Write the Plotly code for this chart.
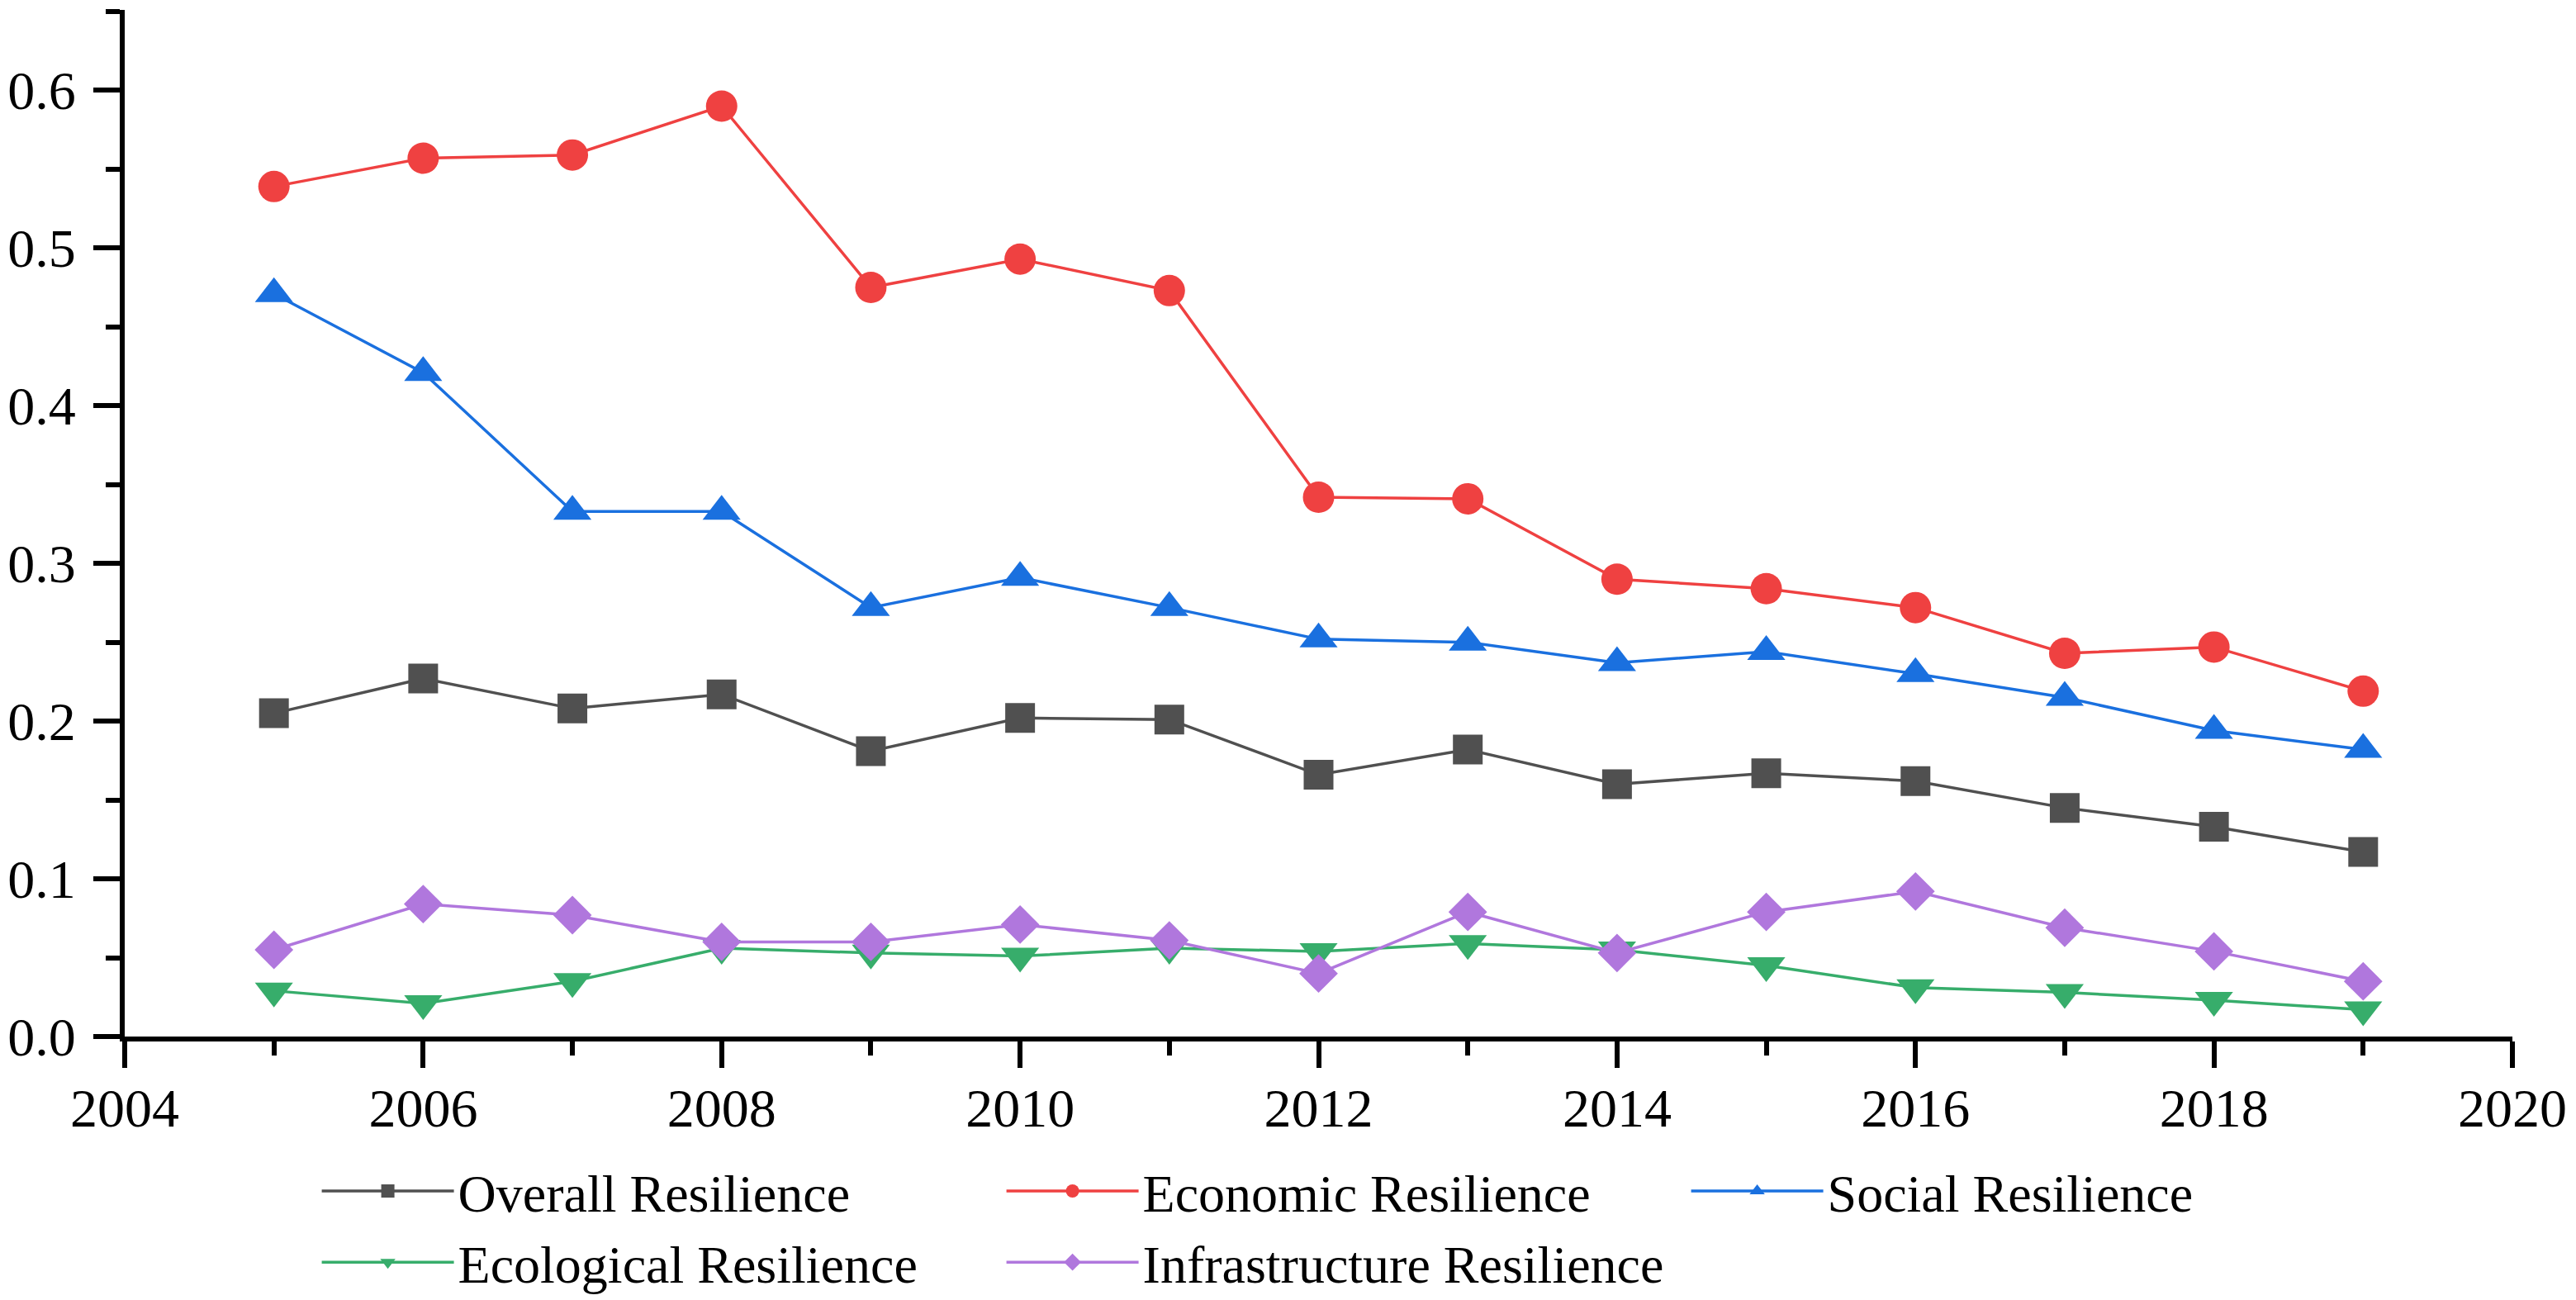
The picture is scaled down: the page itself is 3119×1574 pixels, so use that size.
import plotly.graph_objects as go

years = list(range(2005, 2020))
overall = [0.205, 0.227, 0.208, 0.217, 0.181, 0.202, 0.201, 0.166, 0.182, 0.160, 0.167, 0.162, 0.145, 0.133, 0.117]
economic = [0.539, 0.557, 0.559, 0.590, 0.475, 0.493, 0.473, 0.342, 0.341, 0.290, 0.284, 0.272, 0.243, 0.247, 0.219]
social = [0.471, 0.421, 0.333, 0.333, 0.272, 0.291, 0.272, 0.252, 0.250, 0.237, 0.244, 0.230, 0.215, 0.194, 0.182]
ecological = [0.029, 0.021, 0.035, 0.056, 0.053, 0.051, 0.056, 0.054, 0.059, 0.055, 0.045, 0.031, 0.028, 0.023, 0.017]
infrastructure = [0.055, 0.084, 0.077, 0.060, 0.060, 0.071, 0.061, 0.040, 0.079, 0.053, 0.079, 0.092, 0.069, 0.054, 0.035]

names = ["Overall Resilience", "Economic Resilience", "Social Resilience",
         "Ecological Resilience", "Infrastructure Resilience"]
series = [overall, economic, social, ecological, infrastructure]
colors = ["#505050", "#EF4141", "#1A70DF", "#37AD6B", "#B077DD"]
symbols = ["square", "circle", "triangle-up", "triangle-down", "diamond"]
sizes = [36, 38, 40, 40, 36]

fig = go.Figure()
for n, s, c, sym, sz in zip(names, series, colors, symbols, sizes):
    fig.add_trace(go.Scatter(
        x=years, y=s, name=n, mode="lines+markers",
        line=dict(color=c, width=3.5),
        marker=dict(symbol=sym, size=sz, color=c, line=dict(width=0)),
        cliponaxis=False,
    ))

font = "Liberation Serif, Times New Roman, serif"
fig.update_layout(
    width=3111, height=1566,
    paper_bgcolor="white", plot_bgcolor="white",
    margin=dict(l=143, r=77, t=4, b=319, autoexpand=False),
    font=dict(family=font, size=66, color="black"),
    showlegend=True,
    legend=dict(
        orientation="h", x=0.0808, xanchor="left",
        yref="container", y=0.115, yanchor="top",
        font=dict(family=font, size=64, color="black"),
        itemwidth=160, entrywidth=654, tracegroupgap=0, itemsizing="trace",
        bgcolor="rgba(0,0,0,0)",
    ),
    xaxis=dict(
        range=[2004, 2020], tickmode="linear", tick0=2004, dtick=2,
        showgrid=False, zeroline=False,
        showline=True, linecolor="black", linewidth=6,
        ticks="outside", ticklen=32, tickwidth=6, tickcolor="black",
        ticklabelstandoff=-8,
        minor=dict(dtick=1, tick0=2004, ticks="outside", ticklen=17, tickwidth=6, tickcolor="black", showgrid=False),
        tickfont=dict(family=font, size=66, color="black"),
    ),
    yaxis=dict(
        range=[0, 0.651], tickmode="linear", tick0=0, dtick=0.1, tickformat=".1f",
        showgrid=False, zeroline=False,
        showline=True, linecolor="black", linewidth=6,
        ticks="outside", ticklen=32, tickwidth=6, tickcolor="black",
        ticklabelstandoff=8,
        minor=dict(dtick=0.05, tick0=0, ticks="outside", ticklen=17, tickwidth=6, tickcolor="black", showgrid=False),
        tickfont=dict(family=font, size=66, color="black"),
    ),
)

fig.write_html("out.html")
